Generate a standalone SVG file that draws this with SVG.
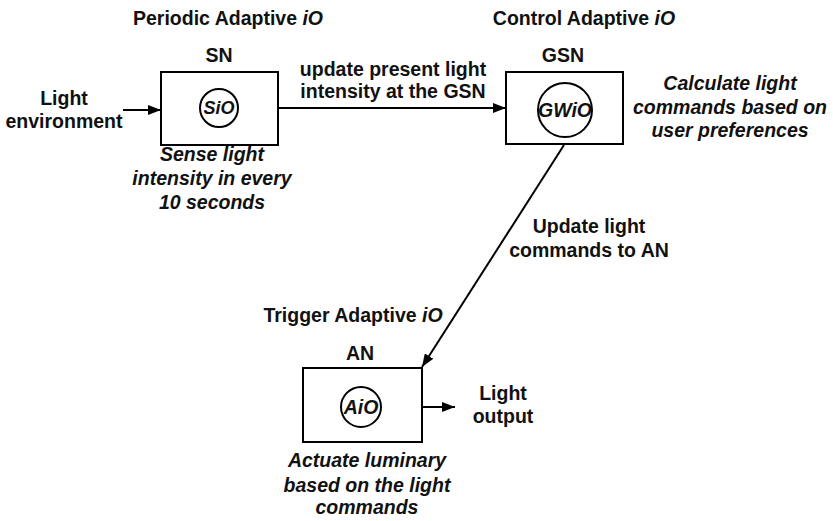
<svg xmlns="http://www.w3.org/2000/svg" width="833" height="521" viewBox="0 0 833 521">
  <defs>
    <marker id="arrow" viewBox="0 0 13 10" refX="13" refY="5" markerWidth="13" markerHeight="10" markerUnits="userSpaceOnUse" orient="auto">
      <path d="M0,0 L13,5 L0,10 Z" fill="#000"/>
    </marker>
    <style>
      text { font-family: "Liberation Sans", Arial, sans-serif; font-weight: bold; font-size: 19.5px; fill: #111; text-anchor: middle; }
      .it { font-style: italic; }
      .small { font-size: 18px; }
      .box { fill: #fff; stroke: #000; stroke-width: 2; }
      .ring { fill: none; stroke: #000; stroke-width: 2; }
      .link { fill: none; stroke: #000; stroke-width: 2; }
    </style>
  </defs>
  <rect width="833" height="521" fill="#fff"/>

  <!-- sensor node -->
  <g id="sn">
    <text x="228" y="25">Periodic Adaptive <tspan class="it">iO</tspan></text>
    <text x="219" y="62">SN</text>
    <rect class="box" x="161" y="72" width="117" height="73"/>
    <circle class="ring" cx="219" cy="108" r="19"/>
    <text class="it small" x="219" y="114">SiO</text>
    <text class="it" x="212" y="161">Sense light</text>
    <text class="it" x="212" y="185">intensity in every</text>
    <text class="it" x="212" y="209">10 seconds</text>
  </g>

  <!-- gateway sensor node -->
  <g id="gsn">
    <text x="584" y="25">Control Adaptive <tspan class="it">iO</tspan></text>
    <text x="563" y="62">GSN</text>
    <rect class="box" x="506" y="72" width="117" height="72"/>
    <circle class="ring" cx="565" cy="110" r="27"/>
    <text class="it" x="565" y="117">GWiO</text>
    <text class="it" x="730" y="90">Calculate light</text>
    <text class="it" x="730" y="114">commands based on</text>
    <text class="it" x="730" y="137">user preferences</text>
  </g>

  <!-- actuator node -->
  <g id="an">
    <text x="353" y="322">Trigger Adaptive <tspan class="it">iO</tspan></text>
    <text x="360" y="360">AN</text>
    <rect class="box" x="303" y="368" width="119" height="74"/>
    <circle class="ring" cx="361" cy="407" r="20"/>
    <text class="it" x="361" y="414">AiO</text>
    <text class="it" x="367" y="467">Actuate luminary</text>
    <text class="it" x="367" y="492">based on the light</text>
    <text class="it" x="367" y="514">commands</text>
  </g>

  <!-- input and output labels -->
  <g id="light-env">
    <text x="64" y="105">Light</text>
    <text x="64" y="128">environment</text>
  </g>
  <g id="light-out">
    <text x="503" y="400">Light</text>
    <text x="503" y="423">output</text>
  </g>

  <!-- connectors -->
  <g id="connectors">
    <line class="link" x1="123" y1="110" x2="161" y2="110" marker-end="url(#arrow)"/>
    <line class="link" x1="278" y1="108" x2="506" y2="108" marker-end="url(#arrow)"/>
    <text x="393" y="76">update present light</text>
    <text x="393" y="98">intensity at the GSN</text>
    <line class="link" x1="564" y1="145" x2="422" y2="367" marker-end="url(#arrow)"/>
    <text x="589" y="233">Update light</text>
    <text x="589" y="257">commands to AN</text>
    <line class="link" x1="422" y1="407" x2="455" y2="407" marker-end="url(#arrow)"/>
  </g>
</svg>
